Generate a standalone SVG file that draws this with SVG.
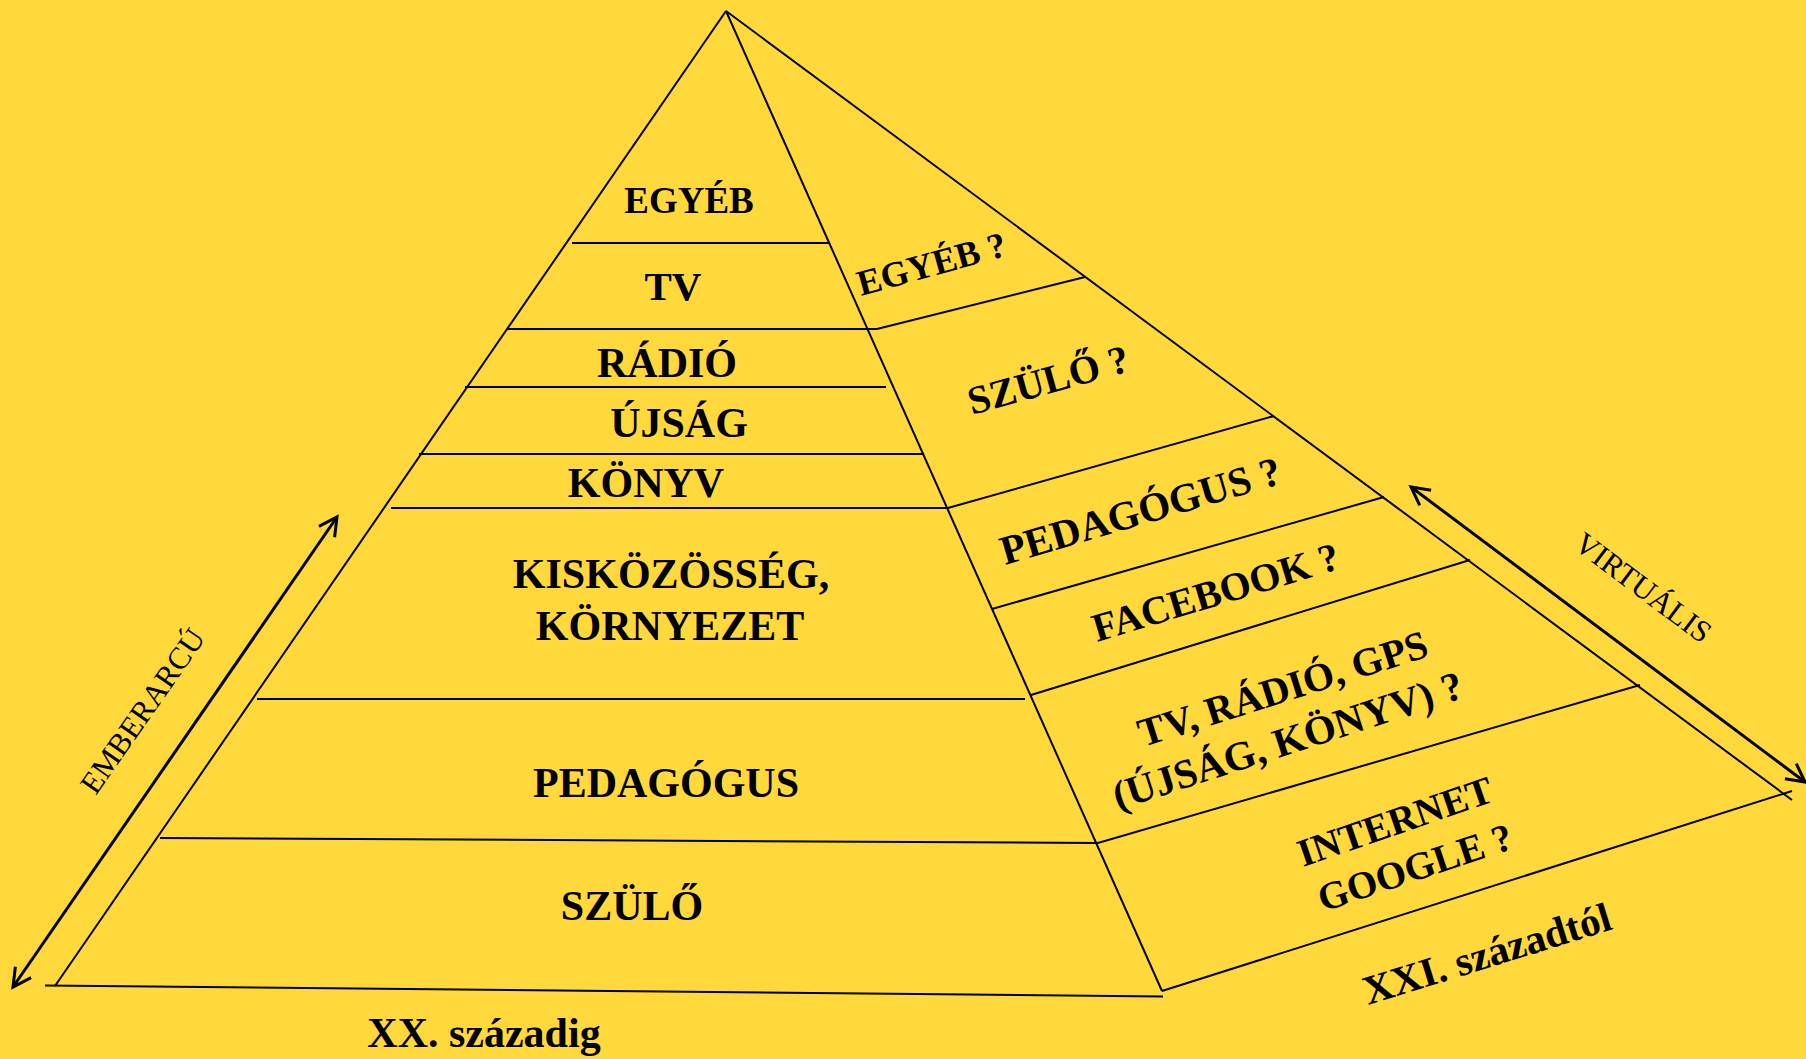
<svg xmlns="http://www.w3.org/2000/svg" width="1806" height="1059" viewBox="0 0 1806 1059">
<defs>
<style>
.ln{stroke:#000;stroke-width:2;fill:none}
.ar{stroke:#000;stroke-width:3;fill:none}
.b{font-family:"Liberation Serif","Times New Roman",serif;font-weight:bold;fill:#000}
.r{font-family:"Liberation Serif","Times New Roman",serif;font-weight:normal;fill:#000}
.c{text-anchor:middle}
</style>
<marker id="ah" viewBox="0 0 24 24" refX="21" refY="12" markerWidth="24" markerHeight="24" markerUnits="userSpaceOnUse" orient="auto-start-reverse">
<path d="M3,2.5 L21,12 L3,21.5" fill="none" stroke="#000" stroke-width="3"/>
</marker>
</defs>
<rect width="1806" height="1059" fill="#FFD93B"/>
<g id="connectors">
<g id="outline">
<path class="ln" d="M726,11 L55,986"/>
<path class="ln" d="M726,11 L1162,991"/>
<path class="ln" d="M45,985.5 L1163,996.5"/>
<path class="ln" d="M726,11 L1792,800"/>
<path class="ln" d="M1162,991 L1792,791"/>
</g>
<g id="dividers">
<path class="ln" d="M572,243 H829"/>
<path class="ln" d="M508,329 H877 L1085,277"/>
<path class="ln" d="M465,387 H886"/>
<path class="ln" d="M419,454 H924"/>
<path class="ln" d="M391,508 H948 L1274,416"/>
<path class="ln" d="M992,609 L1384,497"/>
<path class="ln" d="M257,699 H1025"/>
<path class="ln" d="M1031,695 L1470,560"/>
<path class="ln" d="M160,838 L1098,843 L1640,685"/>
</g>
<g id="arrows">
<path class="ar" d="M337,517 L13,987" marker-start="url(#ah)" marker-end="url(#ah)"/>
<path class="ar" d="M1411,487 L1805,782" marker-start="url(#ah)" marker-end="url(#ah)"/>
</g>
</g>
<g id="left-face">
<g id="t-egyeb"><text class="b c" x="689" y="213" font-size="37">EGYÉB</text></g>
<g id="t-tv"><text class="b c" x="673" y="300" font-size="41">TV</text></g>
<g id="t-radio"><text class="b c" x="667" y="377" font-size="42">RÁDIÓ</text></g>
<g id="t-ujsag"><text class="b c" x="679" y="437" font-size="42">ÚJSÁG</text></g>
<g id="t-konyv"><text class="b c" x="646" y="497" font-size="42">KÖNYV</text></g>
<g id="t-kiskozosseg"><text class="b c" x="671" y="588" font-size="42">KISKÖZÖSSÉG,</text><text class="b c" x="670" y="640" font-size="42">KÖRNYEZET</text></g>
<g id="t-pedagogus"><text class="b c" x="666" y="797" font-size="42">PEDAGÓGUS</text></g>
<g id="t-szulo"><text class="b c" x="632" y="920" font-size="42">SZÜLŐ</text></g>
<g id="t-xx"><text class="b c" x="484" y="1047" font-size="42">XX. századig</text></g>
</g>
<g id="right-face">
<g id="t-egyeb-q"><text class="b" x="861" y="296" font-size="36" transform="rotate(-15.5 861 296)">EGYÉB ?</text></g>
<g id="t-szulo-q"><text class="b" x="972" y="415" font-size="40" transform="rotate(-15.5 972 415)">SZÜLŐ ?</text></g>
<g id="t-pedagogus-q"><text class="b" x="1005" y="565" font-size="41" transform="rotate(-16.4 1005 565)">PEDAGÓGUS ?</text></g>
<g id="t-facebook-q"><text class="b" x="1097" y="642" font-size="40" transform="rotate(-16.8 1097 642)">FACEBOOK ?</text></g>
<g id="t-media-q"><text class="b" x="1143" y="747" font-size="40" transform="rotate(-17.6 1143 747)">TV, RÁDIÓ, GPS</text><text class="b" x="1118" y="810" font-size="41" transform="rotate(-18 1118 810)">(ÚJSÁG, KÖNYV) ?</text></g>
<g id="t-internet-q"><text class="b" x="1303" y="867" font-size="39" transform="rotate(-19 1303 867)">INTERNET</text><text class="b" x="1323" y="912" font-size="39" transform="rotate(-18.5 1323 912)">GOOGLE ?</text></g>
<g id="t-xxi"><text class="b" x="1368" y="1005" font-size="41" transform="rotate(-17.2 1368 1005)">XXI. századtól</text></g>
</g>
<g id="side-labels">
<g id="t-emberarcu"><text class="r c" x="151" y="717" font-size="31" transform="rotate(-55 151 717)">EMBERARCÚ</text></g>
<g id="t-virtualis"><text class="r c" x="1637" y="596" font-size="31" transform="rotate(36.8 1637 596)">VIRTUÁLIS</text></g>
</g>
</svg>
